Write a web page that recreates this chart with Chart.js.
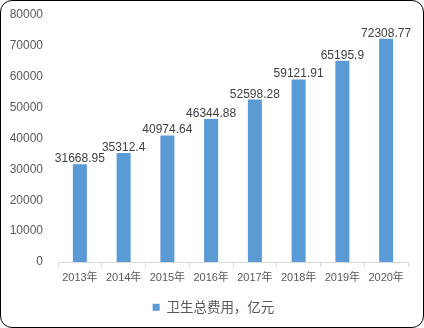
<!DOCTYPE html>
<html>
<head>
<meta charset="utf-8">
<script src="https://cdn.jsdelivr.net/npm/chart.js@4"></script>
<style>
  html, body { margin: 0; padding: 0; background: #fff; }
  #box {
    position: absolute; left: 0; top: 0;
    width: 422px; height: 326px;
    border: 1px solid #000; border-radius: 12px;
    overflow: hidden; background: #fff;
  }
  canvas { display: block; }
</style>
</head>
<body>
<div id="box"><canvas id="c" width="422" height="326"></canvas></div>
<script>
const years = ['2013年', '2014年', '2015年', '2016年', '2017年', '2018年', '2019年', '2020年'];
const totals = [31668.95, 35312.4, 40974.64, 46344.88, 52598.28, 59121.91, 65195.9, 72308.77];
const valueLabels = ['31668.95', '35312.4', '40974.64', '46344.88', '52598.28', '59121.91', '65195.9', '72308.77'];
const seriesName = '卫生总费用，亿元';

const FONT = '"Liberation Sans", Arial, "Noto Sans CJK SC", sans-serif';

const valuePlugin = {
    id: 'valuePlugin',
    afterDatasetsDraw(chart) {
        const {ctx} = chart;
        chart.getDatasetMeta(0).data.forEach((bar, i) => {
            ctx.save();
            ctx.fillStyle = '#404040';
            ctx.font = '12px ' + FONT;
            ctx.textAlign = 'center';
            ctx.textBaseline = 'alphabetic';
            ctx.fillText(valueLabels[i], bar.x, bar.y - 2);
            ctx.restore();
        });
    }
};

// legend sits a little right of the canvas centre in the original
const legendShift = {
    id: 'legendShift',
    afterLayout(chart) {
        chart.legend.left += 5;
        chart.legend.right += 5;
    }
};

new Chart(document.getElementById('c'), {
    type: 'bar',
    data: {
        labels: years,
        datasets: [{
            label: seriesName,
            data: totals,
            backgroundColor: '#5b9bd5',
            barPercentage: 0.64,
            categoryPercentage: 0.5
        }]
    },
    options: {
        responsive: false,
        animation: false,
        layout: { padding: { left: 8, right: 15, top: 14, bottom: 3 } },
        plugins: {
            legend: {
                position: 'bottom',
                labels: {
                    boxWidth: 7,
                    boxHeight: 7,
                    color: '#595959',
                    font: { family: '"Noto Sans CJK SC", sans-serif', size: 13.5 }
                }
            },
            tooltip: { enabled: false }
        },
        scales: {
            x: {
                grid: { drawOnChartArea: false, drawTicks: true, tickLength: 5, color: '#d9d9d9' },
                border: { color: '#d9d9d9' },
                ticks: { color: '#595959', padding: 4, font: { family: FONT, size: 11 } },
                afterFit: s => { s.height = 28.5; }
            },
            y: {
                min: 0, max: 80000,
                grid: { display: false, drawTicks: true, tickLength: 15 },
                border: { display: false },
                ticks: {
                    stepSize: 10000, color: '#595959', padding: 0,
                    font: { family: FONT, size: 12 },
                    callback: v => String(v)
                },
                afterFit: s => { s.width = 49; }
            }
        }
    },
    plugins: [valuePlugin, legendShift]
});
</script>
</body>
</html>
